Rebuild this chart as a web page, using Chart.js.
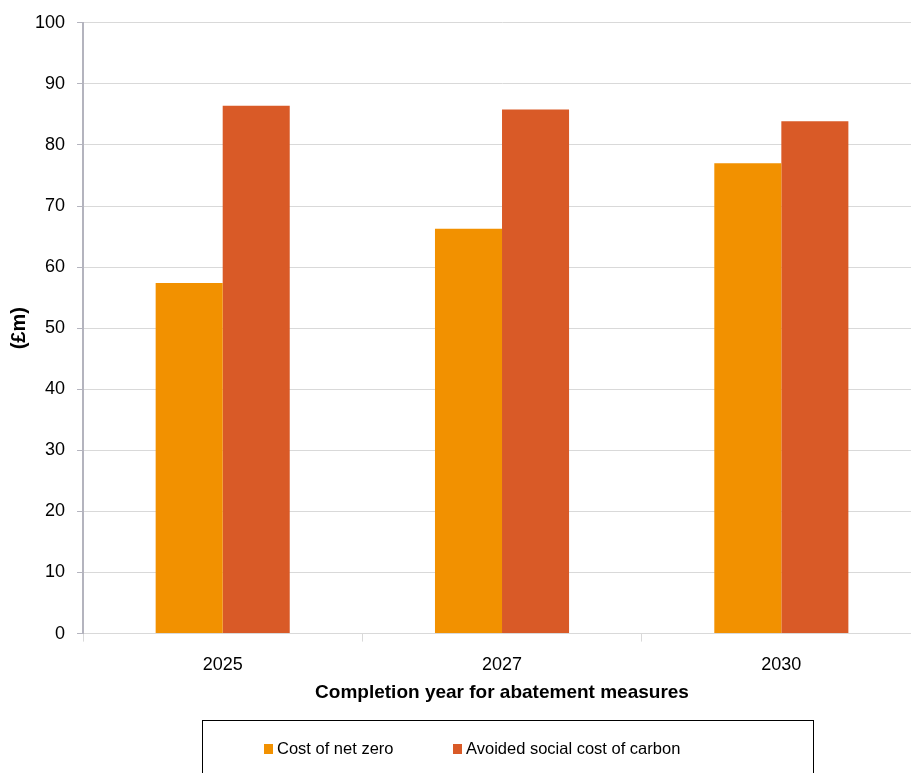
<!DOCTYPE html>
<html>
<head>
<meta charset="utf-8">
<script src="https://cdn.jsdelivr.net/npm/chart.js@4"></script>
<style>
  html, body { margin: 0; padding: 0; background: #fff; overflow: hidden; }
  #wrap { position: relative; width: 911px; height: 773px; overflow: hidden; }
  #box { position: absolute; left: 0; top: 0; width: 925px; height: 773px; }
  #legend {
    position: absolute; left: 202px; top: 720px; width: 612px; height: 70px;
    border: 1px solid #000; box-sizing: border-box;
    font-family: 'Liberation Sans', Arial, sans-serif; font-size: 16.5px; color: #000;
  }
  #legend span.item { position: absolute; top: 18px; white-space: nowrap; }
  #legend i { display: inline-block; width: 9px; height: 10px; margin-right: 4px; vertical-align: 0px; }
</style>
</head>
<body>
<div id="wrap">
  <div id="box"><canvas id="chart"></canvas></div>
  <div id="legend"></div>
</div>
<script>
// Данные графика
const years = ['2025', '2027', '2030'];
const costNetZero = [57.4, 66.3, 77.0];
const avoidedCarbon = [86.4, 85.8, 83.9];
const seriesNames = ['Cost of net zero', 'Avoided social cost of carbon'];
const seriesColors = ['#f29100', '#d95a27'];

const font = "'Liberation Sans', Arial, sans-serif";

const chartInstance = new Chart(document.getElementById('chart'), {
  type: 'bar',
  data: {
    labels: years,
    datasets: [
      {
        label: seriesNames[0],
        data: costNetZero,
        backgroundColor: seriesColors[0],
        categoryPercentage: 0.48,
        barPercentage: 1,
      },
      {
        label: seriesNames[1],
        data: avoidedCarbon,
        backgroundColor: seriesColors[1],
        categoryPercentage: 0.48,
        barPercentage: 1,
      },
    ],
  },
  options: {
    responsive: true,
    maintainAspectRatio: false,
    animation: false,
    layout: {
      padding: { left: 6, right: 4, top: 19, bottom: 69 },
    },
    plugins: {
      legend: { display: false },
      tooltip: { enabled: false },
    },
    scales: {
      x: {
        offset: true,
        ticks: {
          color: '#000',
          padding: 13,
          font: { family: font, size: 18 },
        },
        grid: {
          offset: true,
          drawOnChartArea: false,
          drawTicks: true,
          tickLength: 8,
          color: '#d9d9d9',
        },
        border: { color: '#d9d9d9' },
        title: {
          display: true,
          text: 'Completion year for abatement measures',
          color: '#000',
          padding: { top: -8, bottom: 0 },
          font: { family: font, size: 19, weight: 'bold' },
        },
      },
      y: {
        min: 0,
        max: 100,
        ticks: {
          stepSize: 10,
          color: '#000',
          padding: 12,
          font: { family: font, size: 18 },
        },
        grid: {
          color: '#d9d9d9',
          tickColor: '#b4b4be',
          tickLength: 6,
        },
        border: { color: '#b4b4be', width: 2 },
        title: {
          display: true,
          text: '(£m)',
          color: '#000',
          padding: { top: 1, bottom: -8 },
          font: { family: font, size: 20, weight: 'bold' },
        },
      },
    },
  },
});

// Легенда в рамке (HTML)
const legendEl = document.getElementById('legend');
const legendLeft = [61, 250];
chartInstance.data.datasets.forEach((ds, i) => {
  const item = document.createElement('span');
  item.className = 'item';
  item.style.left = legendLeft[i] + 'px';
  const sw = document.createElement('i');
  sw.style.background = ds.backgroundColor;
  item.appendChild(sw);
  item.appendChild(document.createTextNode(ds.label));
  legendEl.appendChild(item);
});
</script>
</body>
</html>
